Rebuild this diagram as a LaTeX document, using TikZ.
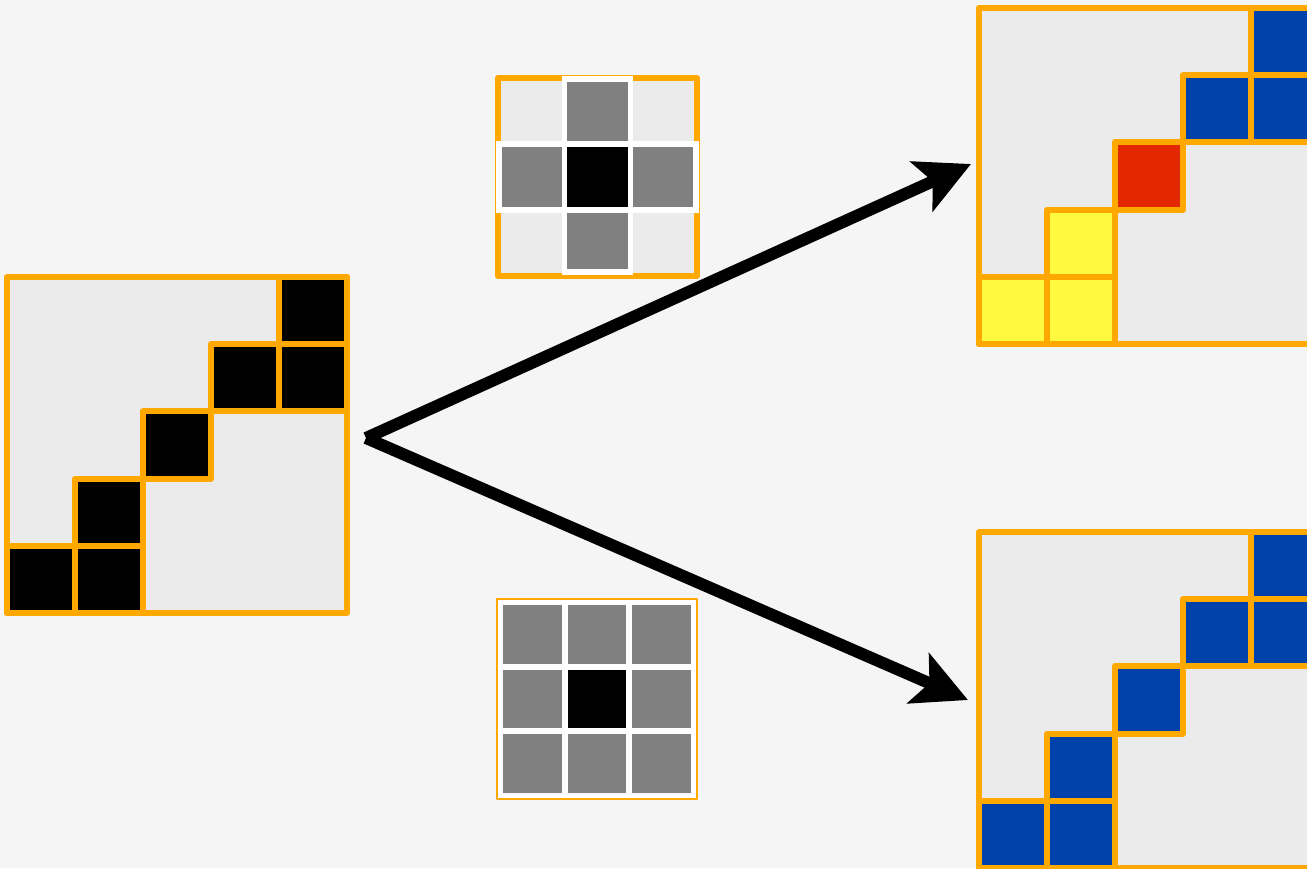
\documentclass[tikz,border=0pt]{standalone}
\usetikzlibrary{arrows.meta}
\definecolor{bgc}{HTML}{F5F5F5}
\definecolor{cellgray}{HTML}{EBEBEB}
\definecolor{orng}{HTML}{FFA800}
\definecolor{blu}{HTML}{0042AA}
\definecolor{rd}{HTML}{E32800}
\definecolor{ylw}{HTML}{FFFA40}
\definecolor{kgray}{HTML}{808080}
\begin{document}
\begin{tikzpicture}[x=1pt,y=-1pt,
  frame/.style={draw=orng,line width=6pt,fill=cellgray,line join=round},
  cellbox/.style={draw=orng,line width=6pt,line join=round},
  kcell/.style={draw=white,line width=5.5pt,fill=kgray},
  conn/.style={line width=12pt,-{Stealth[length=54pt,width=54pt,inset=12pt]}}]
\fill[bgc] (0,0) rectangle (1307,868);
\useasboundingbox (0,0) rectangle (1307,868);
\clip (0,0) rectangle (1307,868);
% ---------- left matrix ----------
\def\cw{68}\def\ch{67.2}
\draw[frame] (7,277) rectangle ++(5*\cw,5*\ch);
\foreach \c/\r in {4/0,3/1,4/1,2/2,1/3,0/4,1/4}
  \draw[cellbox,fill=black] ({7+\c*\cw},{277+\r*\ch}) rectangle ++(\cw,\ch);
% ---------- top right matrix ----------
\draw[frame] (979,8) rectangle ++(5*\cw,5*\ch);
\foreach \c/\r/\col in {4/0/blu,3/1/blu,4/1/blu,2/2/rd,1/3/ylw,0/4/ylw,1/4/ylw}
  \draw[cellbox,fill=\col] ({979+\c*\cw},{8+\r*\ch}) rectangle ++(\cw,\ch);
% ---------- bottom right matrix ----------
\draw[frame] (979,532) rectangle ++(5*\cw,5*\ch);
\foreach \c/\r in {4/0,3/1,4/1,2/2,1/3,0/4,1/4}
  \draw[cellbox,fill=blu] ({979+\c*\cw},{532+\r*\ch}) rectangle ++(\cw,\ch);
% ---------- top kernel (cross) ----------
\draw[frame] (498,78) rectangle (697,276);
\draw[kcell] (564.3,79) rectangle (630.7,144);
\draw[kcell] (499,144) rectangle (564.3,210);
\draw[kcell,fill=black] (564.3,144) rectangle (630.7,210);
\draw[kcell] (630.7,144) rectangle (696,210);
\draw[kcell] (564.3,210) rectangle (630.7,272);
% ---------- bottom kernel (full 3x3) ----------
\draw[draw=orng,line width=2.5pt,fill=white,line join=round] (497,599) rectangle (697,799);
\foreach \c in {0,1,2}
  \foreach \r in {0,1,2}
    \draw[kcell] ({500.5+\c*64.3},{602.5+\r*64.3}) rectangle ++(64.3,64.3);
\draw[kcell,fill=black] ({500.5+64.3},{602.5+64.3}) rectangle ++(64.3,64.3);
% ---------- arrows ----------
\coordinate (src) at (366,438);
\coordinate (topEnd) at (971,164);
\coordinate (botEnd) at (968,700);
\draw[conn] (src) -- (topEnd);
\draw[conn] (src) -- (botEnd);
\end{tikzpicture}
\end{document}
